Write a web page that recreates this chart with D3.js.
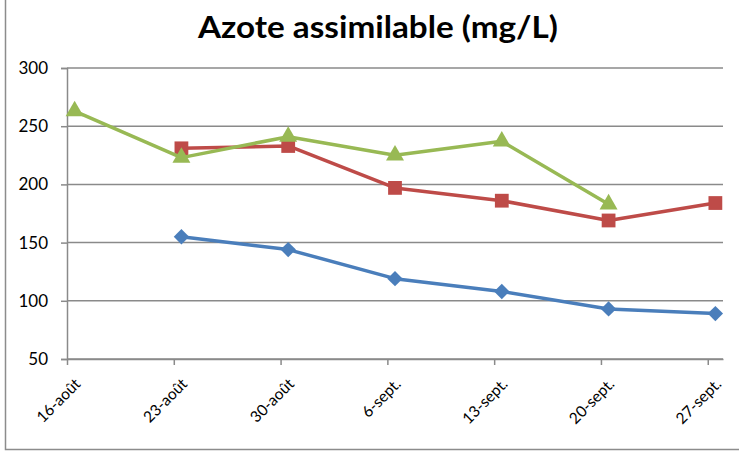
<!DOCTYPE html>
<html>
<head>
<meta charset="utf-8">
<script src="https://cdn.jsdelivr.net/npm/d3@7"></script>
<style>
  body { margin: 0; background: #fff; }
  text { font-family: Lato, "Open Sans", sans-serif; }
</style>
</head>
<body>
<svg id="chart" width="739" height="465"></svg>
<script>
// categories (one reading per week)
const dates = ["16-août", "23-août", "30-août", "6-sept.", "13-sept.", "20-sept.", "27-sept."];
// series values, null = no reading
const blueVals  = [null, 155, 144, 119, 108, 93, 89];
const redVals   = [null, 231, 233, 197, 186, 169, 184];
const greenVals = [263, 223, 241, 225, 237, 183, null];
const yTicks = [50, 100, 150, 200, 250, 300];

const svg = d3.select("#chart");
const plotL = 67, plotR = 723, plotT = 68, plotB = 359;

// date axis: one tick a week, points sit half a day after the tick
const x = d3.scaleLinear().domain([0, 43]).range([plotL, plotR]);
const y = d3.scaleLinear().domain([50, 300]).range([plotB, plotT]);

// outer frame (only left and bottom edges visible)
svg.append("path").attr("d", "M5.5,0 V449.5 H739")
  .attr("fill", "none").attr("stroke", "#8c8c8c").attr("stroke-width", 1.5);

svg.append("text").attr("x", 378).attr("y", 38).attr("text-anchor", "middle")
  .attr("font-size", 31).attr("font-weight", "bold").attr("fill", "#000")
  .attr("textLength", 360).attr("lengthAdjust", "spacingAndGlyphs")
  .text("Azote assimilable (mg/L)");

// grid
svg.append("g").selectAll("line").data(yTicks).enter().append("line")
  .attr("x1", plotL).attr("x2", plotR)
  .attr("y1", d => y(d)).attr("y2", d => y(d))
  .attr("stroke", "#8a8a8a").attr("stroke-width", 1.5);

// y axis
const yAxis = svg.append("g").attr("transform", "translate(" + plotL + ",0)")
  .call(d3.axisLeft(y).tickValues(yTicks).tickSize(6).tickPadding(13));
yAxis.select(".domain").attr("stroke", "#8a8a8a").attr("stroke-width", 1.5);
yAxis.selectAll(".tick line").attr("stroke", "#8a8a8a").attr("stroke-width", 1.5);
yAxis.selectAll("text").attr("font-size", 17).attr("fill", "#000")
  .attr("font-family", "Lato, sans-serif");

// x axis
const xAxis = svg.append("g").attr("transform", "translate(0," + plotB + ")")
  .call(d3.axisBottom(x).tickValues(dates.map((d, i) => i * 7)).tickSize(6)
    .tickSizeOuter(0).tickFormat((d, i) => dates[i]));
xAxis.select(".domain").attr("stroke", "#8a8a8a").attr("stroke-width", 1.5);
xAxis.selectAll(".tick line").attr("stroke", "#8a8a8a").attr("stroke-width", 1.5);
xAxis.selectAll("text").attr("font-size", 15.5).attr("fill", "#000")
  .attr("font-family", "Lato, sans-serif")
  .attr("text-anchor", "end").attr("x", 0).attr("y", 0).attr("dy", 0)
  .attr("transform", "translate(14,26) rotate(-45)");

const series = [
  { vals: blueVals,  color: "#4a7ebb", shape: d3.symbolDiamond2, size: 150 },
  { vals: redVals,   color: "#be4b48", shape: d3.symbolSquare,   size: 190 },
  { vals: greenVals, color: "#98b954", shape: d3.symbolTriangle, size: 140 }
];

const line = d3.line()
  .defined(d => d != null)
  .x((d, i) => x(i * 7 + 0.5))
  .y(d => y(d));

series.forEach(s => {
  const pts = s.vals.map((v, i) => ({ v, i })).filter(p => p.v != null);
  svg.append("path").datum(s.vals).attr("d", line)
    .attr("fill", "none").attr("stroke", s.color).attr("stroke-width", 3.5)
    .attr("stroke-linejoin", "round");
  svg.append("g").selectAll("path").data(pts).enter().append("path")
    .attr("d", d3.symbol().type(s.shape).size(s.size))
    .attr("transform", d => "translate(" + x(d.i * 7 + 0.5) + "," + y(d.v) + ")")
    .attr("fill", s.color);
});
</script>
</body>
</html>
